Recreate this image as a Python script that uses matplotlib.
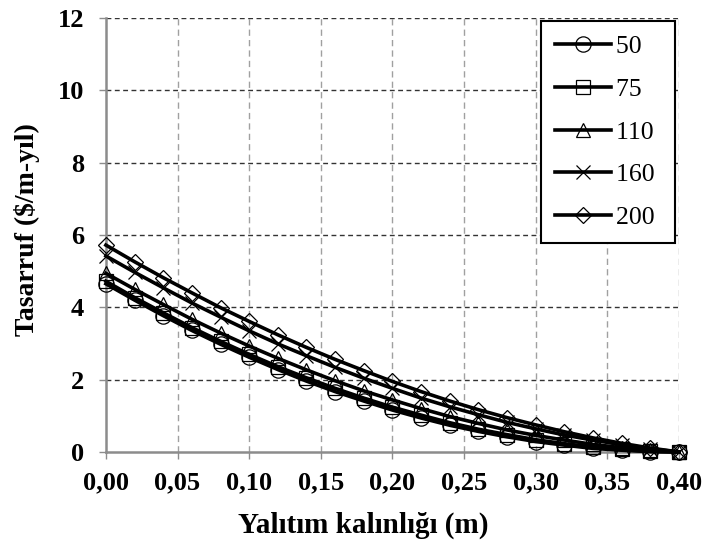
import numpy as np
from matplotlib import pyplot as plt

plt.rcParams['font.family'] = ['Liberation Serif', 'DejaVu Serif']

# Insulation thickness (m), one marker every 0.02 m
thickness = [0.00, 0.02, 0.04, 0.06, 0.08, 0.10, 0.12, 0.14, 0.16, 0.18, 0.20,
             0.22, 0.24, 0.26, 0.28, 0.30, 0.32, 0.34, 0.36, 0.38, 0.40]

# Savings ($/m-yr) per series
s50 = [4.65, 4.20, 3.77, 3.36, 2.98, 2.62, 2.28, 1.96, 1.67, 1.41, 1.16,
       0.94, 0.74, 0.57, 0.42, 0.29, 0.19, 0.10, 0.05, 0.01, 0.00]
s75 = [4.72, 4.27, 3.85, 3.44, 3.06, 2.70, 2.36, 2.05, 1.76, 1.49, 1.24,
       1.02, 0.81, 0.63, 0.48, 0.34, 0.23, 0.14, 0.07, 0.02, 0.00]
s110 = [4.94, 4.50, 4.08, 3.67, 3.29, 2.93, 2.59, 2.27, 1.97, 1.69, 1.44,
        1.20, 0.98, 0.79, 0.61, 0.46, 0.33, 0.21, 0.12, 0.05, 0.00]
s160 = [5.42, 4.97, 4.54, 4.12, 3.73, 3.35, 2.99, 2.66, 2.34, 2.04, 1.76,
        1.49, 1.25, 1.03, 0.82, 0.64, 0.47, 0.33, 0.20, 0.09, 0.00]
s200 = [5.72, 5.26, 4.82, 4.40, 3.99, 3.61, 3.24, 2.89, 2.56, 2.25, 1.95,
        1.67, 1.41, 1.17, 0.95, 0.75, 0.56, 0.39, 0.24, 0.11, 0.00]

series_labels = ['50', '75', '110', '160', '200']
series_markers = ['o', 's', '^', 'x', 'D']

x_ticks = [0.00, 0.05, 0.10, 0.15, 0.20, 0.25, 0.30, 0.35, 0.40]
x_ticklabels = ['0,00', '0,05', '0,10', '0,15', '0,20', '0,25', '0,30', '0,35', '0,40']
y_ticks = [0, 2, 4, 6, 8, 10, 12]

fig = plt.figure(figsize=(7.05, 5.42), dpi=100)
ax = fig.add_axes([0.1502, 0.166, 0.813, 0.801])

all_series = [s50, s75, s110, s160, s200]
sizes = {'o': 11, 's': 9.5, '^': 10.5, 'x': 10, 'D': 8.5}
for vals, lab, mk in zip(all_series, series_labels, series_markers):
    # trailing space widens the legend box on the right like the original
    ax.plot(thickness, vals, color='black', lw=2.6, marker=mk, ms=sizes[mk],
            mfc='none', mec='black', mew=0.9, label=lab + ' ', clip_on=False,
            zorder=3)

ax.set_xlim(0, 0.40)
ax.set_ylim(0, 12)
ax.set_xticks(x_ticks)
ax.set_xticklabels(x_ticklabels)
ax.set_yticks(y_ticks)

# grid: dark dashed horizontals, grey dashed verticals
for yv in y_ticks[1:]:
    ax.axhline(yv, color='#333333', lw=1.0, dashes=(3.5, 2.5), zorder=1)
for xv in x_ticks[1:]:
    ax.axvline(xv, color='#a0a0a0', lw=1.0, dashes=(4.5, 3), zorder=1)

ax.spines['top'].set_visible(False)
ax.spines['right'].set_visible(False)
for side in ['left', 'bottom']:
    ax.spines[side].set_color('#8c8c8c')
    ax.spines[side].set_linewidth(1.8)

ax.tick_params(axis='both', direction='out', length=5, width=1, color='#8c8c8c',
               labelsize=19)
ax.tick_params(axis='x', pad=9)
ax.tick_params(axis='y', pad=10.5)
for t in ax.get_xticklabels() + ax.get_yticklabels():
    t.set_fontweight('bold')

ax.set_xlabel('Yalıtım kalınlığı (m)', fontsize=21, fontweight='bold', va='center')
ax.set_ylabel('Tasarruf ($/m-yıl)', fontsize=20, fontweight='bold', va='center')
ax.xaxis.set_label_coords(0.449, -0.168)
ax.yaxis.set_label_coords(-0.137, 0.512)

leg = ax.legend(loc='upper right', bbox_to_anchor=(675 / 705, 1 - 21 / 542),
                bbox_transform=fig.transFigure, borderaxespad=0, fancybox=False,
                framealpha=1, edgecolor='black', fontsize=18.5, handlelength=2.15,
                handletextpad=0.2, labelspacing=0.77, borderpad=0.55)
leg.get_frame().set_linewidth(1.5)
leg.set_zorder(5)

plt.savefig('out.png', dpi=100)
